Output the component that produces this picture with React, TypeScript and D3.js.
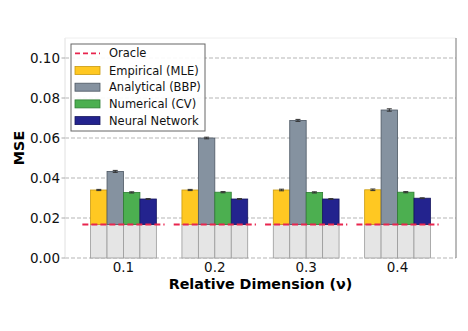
import React from 'react';
import * as d3 from 'd3';

const categories = ['0.1', '0.2', '0.3', '0.4'];
const empirical = [0.0340, 0.0340, 0.0340, 0.0341];
const analytical = [0.0433, 0.0600, 0.0688, 0.0740];
const numerical = [0.0328, 0.0329, 0.0328, 0.0329];
const neural = [0.0295, 0.0295, 0.0295, 0.0299];
const empiricalErr = [0.0003, 0.0003, 0.0004, 0.0004];
const analyticalErr = [0.0005, 0.0004, 0.0005, 0.0006];
const numericalErr = [0.0003, 0.0003, 0.0003, 0.0003];
const neuralErr = [0.0002, 0.0002, 0.0002, 0.0002];
const oracle = 0.0168;
const yTicks = [0, 0.02, 0.04, 0.06, 0.08, 0.1];

const series = [
  { name: 'Empirical (MLE)', values: empirical, errs: empiricalErr, fill: '#ffc822', edge: '#c99a10' },
  { name: 'Analytical (BBP)', values: analytical, errs: analyticalErr, fill: '#8592a0', edge: '#4d5763' },
  { name: 'Numerical (CV)', values: numerical, errs: numericalErr, fill: '#4caf50', edge: '#2e7d32' },
  { name: 'Neural Network', values: neural, errs: neuralErr, fill: '#23238e', edge: '#15155e' },
];

const W = 468, H = 331;
const left = 65, right = 456, top = 38, bottom = 258;
const font = 'DejaVu Sans, sans-serif';

export default function App() {
  const x = d3.scalePoint<string>().domain(categories).range([left, right]).padding(0.64);
  const step = x.step();
  const bw = step * 0.18;
  const y = d3.scaleLinear().domain([0, 0.11]).range([bottom, top]);

  return (
    <svg width={W} height={H} style={{ position: 'absolute', left: 0, top: 0 }} fontFamily={font}>
      <rect x={0} y={0} width={W} height={H} fill="#fff" />
      {/* grid */}
      {yTicks.map(t => (
        <line key={t} x1={left} x2={right} y1={y(t)} y2={y(t)} stroke="#b5b5b5" strokeWidth={1} strokeDasharray="4,2" />
      ))}
      {/* spines */}
      <line x1={left} x2={left} y1={top} y2={bottom} stroke="#e0e0e0" />
      <line x1={left} x2={right} y1={top} y2={top} stroke="#eeeeee" />
      <line x1={right} x2={right} y1={top} y2={bottom} stroke="#777" />

      {/* bars */}
      {categories.map((c, i) => {
        const cx = x(c)!;
        return (
          <g key={c}>
            {series.map((s, j) => {
              const bx = cx - 2 * bw + j * bw;
              return (
                <g key={s.name}>
                  <rect x={bx} y={y(oracle)} width={bw} height={y(0) - y(oracle)} fill="#e5e5e5" stroke="#9a9a9a" strokeWidth={0.8} />
                  <rect x={bx} y={y(s.values[i])} width={bw} height={y(oracle) - y(s.values[i])} fill={s.fill} stroke={s.edge} strokeWidth={0.8} />
                  <line x1={bx + bw / 2} x2={bx + bw / 2} y1={y(s.values[i] + s.errs[i])} y2={y(s.values[i] - s.errs[i])} stroke="#333" strokeWidth={1} />
                  <line x1={bx + bw / 2 - 2.5} x2={bx + bw / 2 + 2.5} y1={y(s.values[i] + s.errs[i])} y2={y(s.values[i] + s.errs[i])} stroke="#333" strokeWidth={1} />
                  <line x1={bx + bw / 2 - 2.5} x2={bx + bw / 2 + 2.5} y1={y(s.values[i] - s.errs[i])} y2={y(s.values[i] - s.errs[i])} stroke="#333" strokeWidth={1} />
                </g>
              );
            })}
            <line x1={cx - step * 0.45} x2={cx + step * 0.45} y1={y(oracle)} y2={y(oracle)} stroke="#e8254e" strokeWidth={2} strokeDasharray="6,3" />
          </g>
        );
      })}

      {/* y axis */}
      {yTicks.map(t => (
        <g key={t}>
          <line x1={left - 3.5} x2={left} y1={y(t)} y2={y(t)} stroke="#aaa" />
          <text x={left - 5} y={y(t)} dy="0.35em" textAnchor="end" fontSize={13.5} fill="#111">{t.toFixed(2)}</text>
        </g>
      ))}
      <text transform={`translate(24,${(top + bottom) / 2}) rotate(-90)`} textAnchor="middle" fontSize={14.3} fontWeight="bold">MSE</text>

      {/* x axis */}
      {categories.map(c => (
        <text key={c} x={x(c)!} y={272} textAnchor="middle" fontSize={13.5} fill="#111">{c}</text>
      ))}
      <text x={(left + right) / 2} y={289} textAnchor="middle" fontSize={14.3} fontWeight="bold">Relative Dimension (ν)</text>

      {/* legend */}
      <g transform="translate(71,44)">
        <rect x={0} y={0} width={134} height={87} fill="#fff" fillOpacity={0.9} stroke="#666" strokeWidth={1} />
        <line x1={4} x2={29} y1={9.3} y2={9.3} stroke="#e8254e" strokeWidth={1.8} strokeDasharray="5,3" />
        <text x={38} y={9.3} dy="0.35em" fontSize={11.5} fill="#111">Oracle</text>
        {series.map((s, j) => (
          <g key={s.name} transform={`translate(0,${26.5 + j * 16.7})`}>
            <rect x={4} y={-4} width={25} height={8} fill={s.fill} stroke={s.edge} strokeWidth={0.8} />
            <text x={38} y={0} dy="0.35em" fontSize={11.5} fill="#111">{s.name}</text>
          </g>
        ))}
      </g>
    </svg>
  );
}
